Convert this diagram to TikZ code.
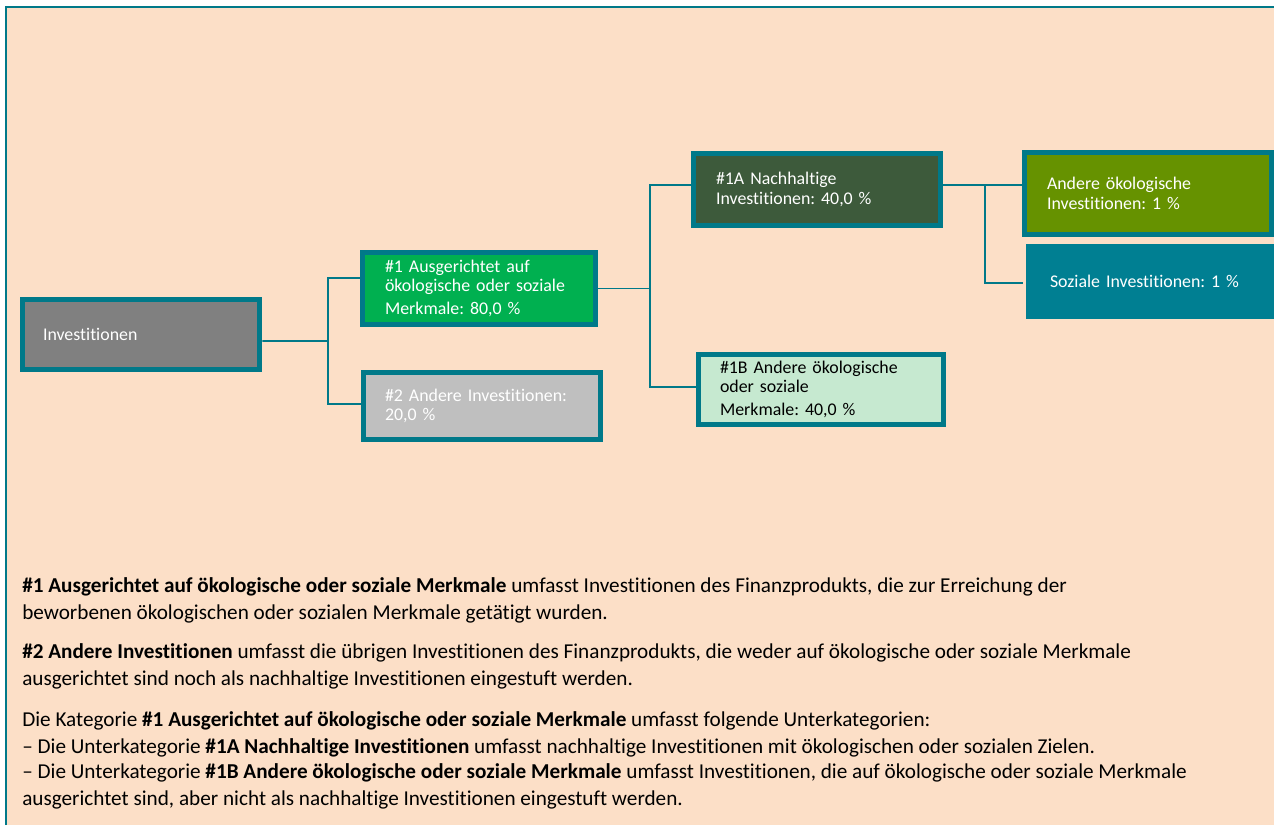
\documentclass[tikz,border=0pt]{standalone}
\usepackage{fontspec}
\setmainfont{Carlito}[Ligatures={TeX,NoCommon}]
\usepackage{xcolor}
\usepackage{tikz}

\definecolor{peach}{RGB}{252,223,199}
\definecolor{frame}{RGB}{0,121,137}
\definecolor{invgray}{RGB}{128,128,128}
\definecolor{alignedgreen}{RGB}{0,176,80}
\definecolor{othergray}{RGB}{191,191,191}
\definecolor{susgreen}{RGB}{61,90,59}
\definecolor{mint}{RGB}{198,233,208}
\definecolor{olive}{RGB}{102,146,0}
\definecolor{socteal}{RGB}{0,127,146}

\tikzset{
  box/.style={draw=frame, line width=4.2pt, text=white, align=left, inner ysep=0pt,
    font=\fontsize{13.4}{14.5}\selectfont},
  link/.style={draw=frame, line width=1.3pt},
  textline/.style={anchor=base west, inner sep=0pt, text=black,
    font=\fontsize{15.9}{19.5}\selectfont}
}

\begin{document}
\frenchspacing
\begin{tikzpicture}[x=0.75pt,y=-0.75pt]
            \useasboundingbox (0,0) rectangle (1274,825);
            \fill [peach] (5,6) rectangle (1274,825);
            \draw [frame, line width=1.5pt] (6,825) -- (6,7) -- (1274,7);

            % boxes
            \node [box, fill=invgray, text width=147pt, inner xsep=15.4pt, minimum height=52.5pt] (inv) at (141,334.5) {Investitionen};
            \node [box, fill=alignedgreen, text width=141pt, inner xsep=16.9pt, minimum height=54pt] (grp1) at (479,288.5) {\#1 Ausgerichtet auf\\ ökologische oder soziale\\[2.5pt] Merkmale: 80,0 \%};
            \node [box, fill=othergray, text width=145.5pt, inner xsep=16.1pt, minimum height=50pt] (grp2) at (482,406) {\#2 Andere Investitionen:\\ 20,0 \%};
            \node [box, fill=susgreen, text width=151.5pt, inner xsep=16.9pt, minimum height=54pt] (sus) at (817,189.5) {\#1A Nachhaltige\\ Investitionen: 40,0 \%};
            \node [box, fill=mint, text=black, text width=151.5pt, inner xsep=16.1pt, minimum height=52.5pt] (oth) at (821,389.5) {\#1B Andere ökologische\\ oder soziale\\[2.5pt] Merkmale: 40,0 \%};
            \node [box, fill=olive, text width=151.5pt, inner xsep=16.9pt, minimum height=61.5pt] (env) at (1148,193.5) {Andere ökologische\\ Investitionen: 1 \%};
            \node [box, draw=none, fill=socteal, text width=150pt, inner xsep=18pt, minimum height=56.25pt] (soc) at (1150,281.5) {Soziale Investitionen: 1 \%};

            % connectors
            \coordinate (j1) at (328,341);
            \coordinate (j2) at (650,288.5);
            \coordinate (j3) at (985,185);
            \draw [link] ([yshift=-4.9pt]inv.east) -- (j1);
            \draw [link] ([yshift=7.9pt]grp1.west) -| (j1) |- ([yshift=1.5pt]grp2.west);
            \draw [link] (grp1.east) -- (j2);
            \draw [link] ([yshift=3.4pt]sus.west) -| (j2) |- ([yshift=1.9pt]oth.west);
            \draw [link] ([yshift=3.4pt]sus.east) -- ([yshift=6.4pt]env.west);
            \draw [link] (j3) |- ([yshift=-1.1pt]soc.west);

            % explanation
            \node [textline] (l1) at (22,592) {\textbf{\#1 Ausgerichtet auf ökologische oder soziale Merkmale} umfasst Investitionen des Finanzprodukts, die zur Erreichung der};
            \node [textline] (l2) at (22,619) {beworbenen ökologischen oder sozialen Merkmale getätigt wurden.};
            \node [textline] (l3) at (22,658) {\textbf{\#2 Andere Investitionen} umfasst die übrigen Investitionen des Finanzprodukts, die weder auf ökologische oder soziale Merkmale};
            \node [textline] (l4) at (22,685) {ausgerichtet sind noch als nachhaltige Investitionen eingestuft werden.};
            \node [textline] (l5) at (22,726) {Die Kategorie \textbf{\#1 Ausgerichtet auf ökologische oder soziale Merkmale} umfasst folgende Unterkategorien:};
            \node [textline] (l6) at (22,753) {-- Die Unterkategorie \textbf{\#1A Nachhaltige Investitionen} umfasst nachhaltige Investitionen mit ökologischen oder sozialen Zielen.};
            \node [textline] (l7) at (22,778) {-- Die Unterkategorie \textbf{\#1B Andere ökologische oder soziale Merkmale} umfasst Investitionen, die auf ökologische oder soziale Merkmale};
            \node [textline] (l8) at (22,805) {ausgerichtet sind, aber nicht als nachhaltige Investitionen eingestuft werden.};
        \end{tikzpicture}
\end{document}
